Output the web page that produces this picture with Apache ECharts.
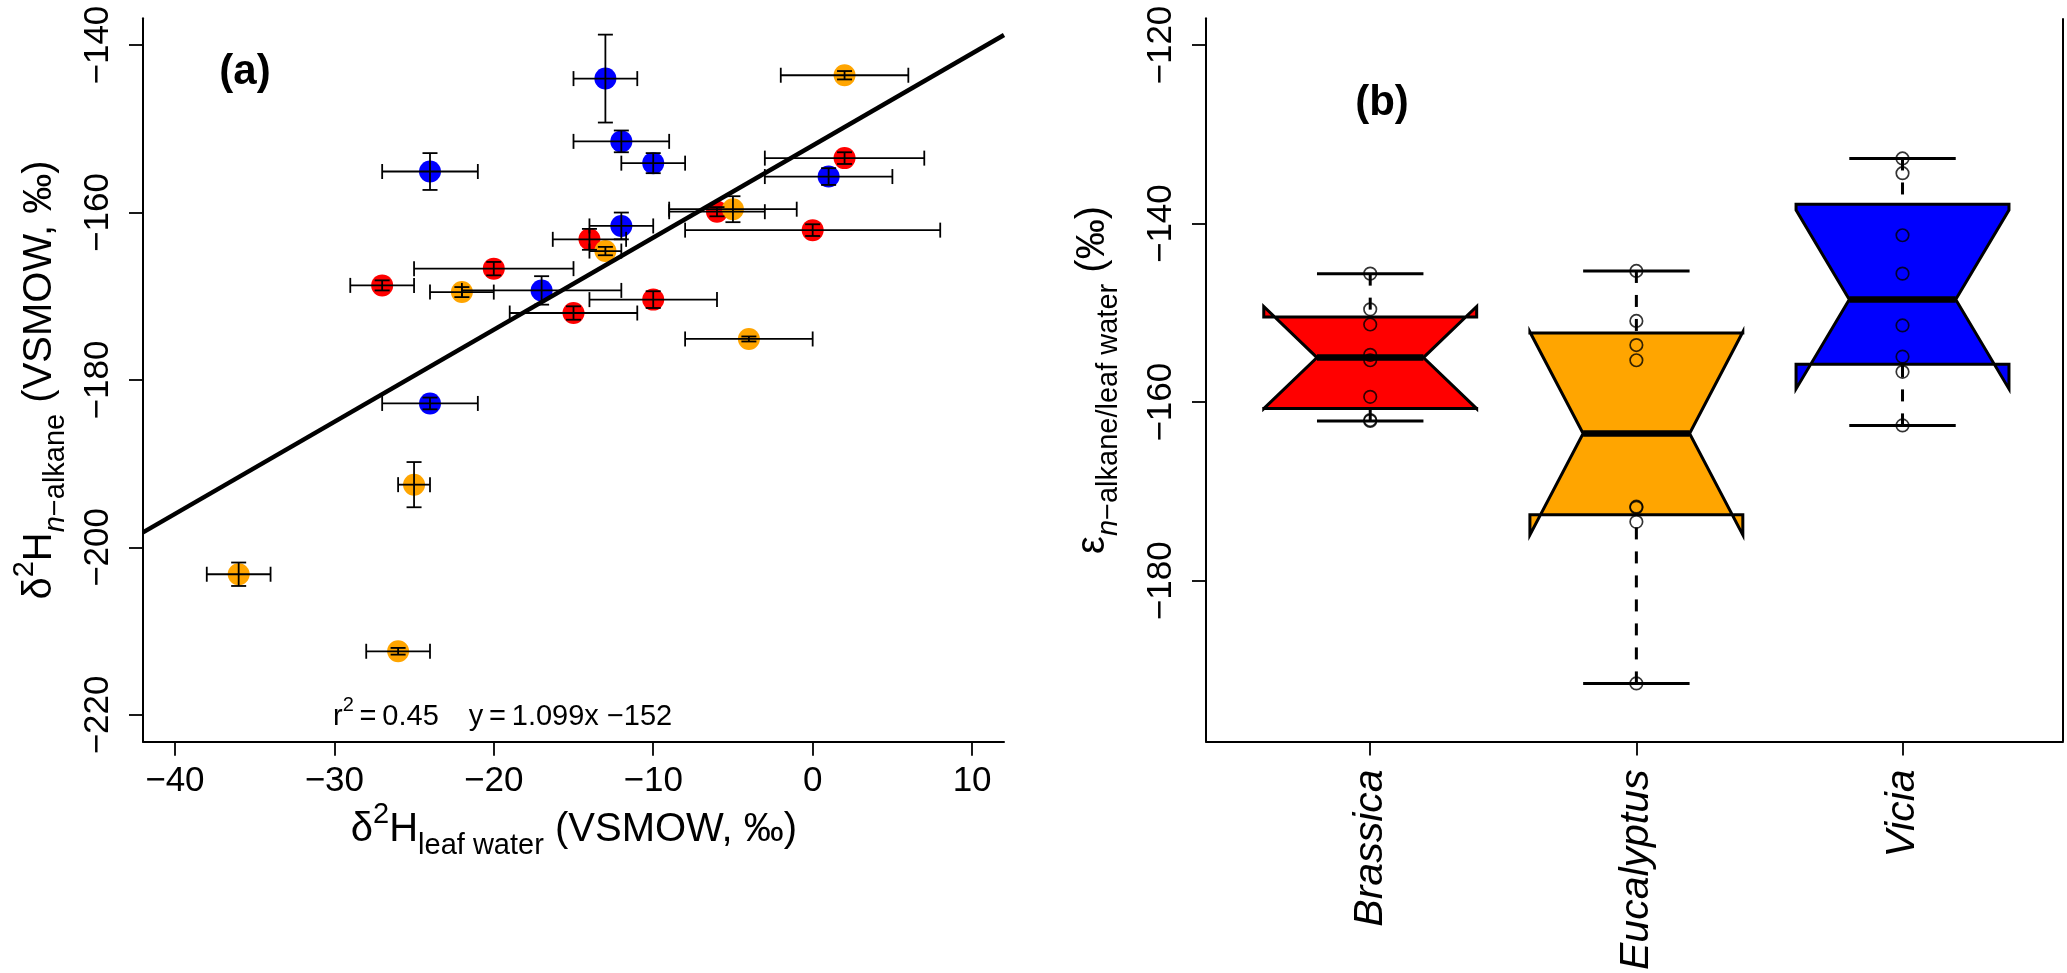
<!DOCTYPE html>
<html>
<head>
<meta charset="utf-8">
<script src="https://cdn.jsdelivr.net/npm/echarts@6/dist/echarts.min.js"></script>
<style>
html,body{margin:0;padding:0;background:#ffffff;}
#chart{width:2067px;height:973px;}
</style>
</head>
<body>
<div id="chart"></div>
<script>
// ---------------- DATA ----------------
const speciesNames = ['Brassica', 'Eucalyptus', 'Vicia'];
const speciesColors = ['#FF0000', '#FFA500', '#0000FF'];

// Panel (a): leaf water d2H (x), n-alkane d2H (y), with SDs
const brassicaLeafWater   = [-27, -20, -15, -14, -10, -6, 0, 2];
const brassicaLeafWaterSD = [2, 5, 4, 2.3, 4, 3, 8, 5];
const brassicaAlkane      = [-168.7, -166.7, -172.0, -163.2, -170.4, -159.9, -162.1, -153.5];
const brassicaAlkaneSD    = [0.6, 0.8, 0.8, 1.25, 1.0, 0.55, 0.7, 0.7];

const eucalyptusLeafWater   = [-36, -26, -25, -22, -13, -5, -4, 2];
const eucalyptusLeafWaterSD = [2, 2, 1, 2, 1, 4, 4, 4];
const eucalyptusAlkane      = [-203.2, -212.4, -192.5, -169.5, -164.6, -159.6, -175.1, -143.6];
const eucalyptusAlkaneSD    = [1.4, 0.4, 2.7, 0.6, 0.5, 1.55, 0.3, 0.5];

const viciaLeafWater   = [-24, -24, -17, -13, -12, -12, -10, 1];
const viciaLeafWaterSD = [3, 3, 5, 2, 3, 2, 2, 4];
const viciaAlkane      = [-155.1, -182.8, -169.3, -144.0, -151.5, -161.6, -154.1, -155.7];
const viciaAlkaneSD    = [2.2, 0.7, 1.7, 5.25, 1.3, 1.6, 1.2, 1.0];

// Regression line end points (y = 1.099x - 152) read at the plot edges
const fitLineX = [-42, 12];
const fitLineY = [-198.2, -138.8];

// Panel (b): epsilon n-alkane / leaf water
const brassicaEpsilon   = [-162.1, -162.0, -159.4, -155.3, -154.7, -151.3, -149.6, -145.6];
const eucalyptusEpsilon = [-191.5, -173.4, -171.8, -171.7, -155.3, -153.6, -150.9, -145.3];
const viciaEpsilon      = [-162.6, -156.6, -154.9, -151.4, -145.6, -141.3, -134.35, -132.7];

// Tick labels
const xTicksA = [-40, -30, -20, -10, 0, 10];
const yTicksA = [-220, -200, -180, -160, -140];
const xTicksB = [1, 2, 3];
const yTicksB = [-180, -160, -140, -120];

// ---------------- LAYOUT ----------------
const FONT = "'Liberation Sans', Arial, Helvetica, sans-serif";
const aXRange = [-42, 12];
const aYRange = [-223.2, -136.8];
const bXRange = [0.383, 3.603];
const bYRange = [-198, -117];

const groupsA = [
  {x: brassicaLeafWater, xe: brassicaLeafWaterSD, y: brassicaAlkane, ye: brassicaAlkaneSD},
  {x: eucalyptusLeafWater, xe: eucalyptusLeafWaterSD, y: eucalyptusAlkane, ye: eucalyptusAlkaneSD},
  {x: viciaLeafWater, xe: viciaLeafWaterSD, y: viciaAlkane, ye: viciaAlkaneSD}
];
const groupsB = [brassicaEpsilon, eucalyptusEpsilon, viciaEpsilon];

// R-style boxplot statistics (Tukey hinges, notches)
function fivenum(v) {
  const x = v.slice().sort((a, b) => a - b);
  const n = x.length;
  const n4 = Math.floor((n + 3) / 2) / 2;
  const d = [1, n4, (n + 1) / 2, n + 1 - n4, n];
  return d.map(di => 0.5 * (x[Math.floor(di) - 1] + x[Math.ceil(di) - 1]));
}
const boxStats = groupsB.map(v => {
  const f = fivenum(v);
  const iqr = f[3] - f[1];
  const loLim = f[1] - 1.5 * iqr, hiLim = f[3] + 1.5 * iqr;
  const inside = v.filter(a => a >= loLim && a <= hiLim);
  const conf = 1.58 * iqr / Math.sqrt(v.length);
  return {
    wlo: Math.min.apply(null, inside), q1: f[1], med: f[2], q3: f[3],
    whi: Math.max.apply(null, inside), nlo: f[2] - conf, nhi: f[2] + conf
  };
});

const series = [];
// scatter points panel (a)
groupsA.forEach((g, k) => {
  series.push({
    type: 'scatter', xAxisIndex: 0, yAxisIndex: 0, z: 2,
    symbol: 'circle', symbolSize: 22,
    itemStyle: {color: speciesColors[k], opacity: 1},
    data: g.x.map((xv, i) => [xv, g.y[i]]),
    silent: true
  });
});
// error bars panel (a)
const errData = [];
groupsA.forEach(g => g.x.forEach((xv, i) => errData.push([xv, g.y[i], g.xe[i], g.ye[i]])));
series.push({
  type: 'custom', xAxisIndex: 0, yAxisIndex: 0, z: 3,
  data: errData,
  encode: {x: 0, y: 1},
  renderItem: function (params, api) {
    const x = api.value(0), y = api.value(1), xe = api.value(2), ye = api.value(3);
    const pL = api.coord([x - xe, y]), pR = api.coord([x + xe, y]);
    const pT = api.coord([x, y + ye]), pB = api.coord([x, y - ye]);
    const c = 7.5;
    const st = {stroke: '#000', lineWidth: 1.8, fill: null};
    const ln = (x1, y1, x2, y2) => ({type: 'line', shape: {x1, y1, x2, y2}, style: st});
    return {type: 'group', children: [
      ln(pL[0], pL[1], pR[0], pR[1]),
      ln(pL[0], pL[1] - c, pL[0], pL[1] + c),
      ln(pR[0], pR[1] - c, pR[0], pR[1] + c),
      ln(pT[0], pT[1], pB[0], pB[1]),
      ln(pT[0] - c, pT[1], pT[0] + c, pT[1]),
      ln(pB[0] - c, pB[1], pB[0] + c, pB[1])
    ]};
  },
  silent: true
});
// regression line
series.push({
  type: 'line', xAxisIndex: 0, yAxisIndex: 0, z: 4,
  data: fitLineX.map((xv, i) => [xv, fitLineY[i]]),
  showSymbol: false, symbol: 'none',
  lineStyle: {color: '#000', width: 4.5},
  clip: true, silent: true
});
// notched boxplots panel (b)
series.push({
  type: 'custom', xAxisIndex: 1, yAxisIndex: 1, z: 2,
  data: boxStats.map((s, i) => [i + 1, s.med]),
  encode: {x: 0, y: 1},
  renderItem: function (params, api) {
    const i = api.value(0);
    const s = boxStats[i - 1];
    const w = 0.4;
    const P = (xx, yy) => api.coord([xx, yy]);
    const x = i;
    const pts = [
      P(x - w, s.q1), P(x + w, s.q1), P(x + w, s.nlo), P(x + w * 0.5, s.med),
      P(x + w, s.nhi), P(x + w, s.q3), P(x - w, s.q3), P(x - w, s.nhi),
      P(x - w * 0.5, s.med), P(x - w, s.nlo)
    ];
    const wLoEnd = P(x, s.wlo), wLoBox = P(x, s.q1);
    const wHiEnd = P(x, s.whi), wHiBox = P(x, s.q3);
    const sL1 = P(x - 0.2, s.wlo), sR1 = P(x + 0.2, s.wlo);
    const sL2 = P(x - 0.2, s.whi), sR2 = P(x + 0.2, s.whi);
    const mL = P(x - w * 0.5, s.med), mR = P(x + w * 0.5, s.med);
    const dash = {stroke: '#000', lineWidth: 3, lineDash: [12, 12], fill: null};
    const solid = {stroke: '#000', lineWidth: 3, fill: null};
    return {type: 'group', children: [
      {type: 'line', shape: {x1: wLoEnd[0], y1: wLoEnd[1], x2: wLoBox[0], y2: wLoBox[1]}, style: dash},
      {type: 'line', shape: {x1: wHiEnd[0], y1: wHiEnd[1], x2: wHiBox[0], y2: wHiBox[1]}, style: dash},
      {type: 'line', shape: {x1: sL1[0], y1: sL1[1], x2: sR1[0], y2: sR1[1]}, style: solid},
      {type: 'line', shape: {x1: sL2[0], y1: sL2[1], x2: sR2[0], y2: sR2[1]}, style: solid},
      {type: 'polygon', shape: {points: pts}, style: {fill: speciesColors[i - 1], stroke: '#000', lineWidth: 3, lineJoin: 'miter'}},
      {type: 'line', shape: {x1: mL[0], y1: mL[1], x2: mR[0], y2: mR[1]}, style: {stroke: '#000', lineWidth: 6.5, lineCap: 'butt'}}
    ]};
  },
  silent: true
});
// open circles panel (b)
groupsB.forEach((v, k) => {
  series.push({
    type: 'scatter', xAxisIndex: 1, yAxisIndex: 1, z: 5,
    symbol: 'circle', symbolSize: 12.5,
    itemStyle: {color: 'rgba(0,0,0,0)', borderColor: '#000', borderWidth: 1.7},
    data: v.map(val => [k + 1, val]),
    silent: true
  });
});

function axisCommon(ticks, extraLabel) {
  return {
    axisLine: {show: true, onZero: false, lineStyle: {color: '#000', width: 2}},
    axisTick: {show: true, inside: false, length: 14, customValues: ticks, lineStyle: {color: '#000', width: 1.8}},
    axisLabel: Object.assign({show: true, customValues: ticks, color: '#000', fontFamily: FONT, fontSize: 35}, extraLabel),
    splitLine: {show: false}
  };
}

const option = {
  animation: false,
  backgroundColor: '#ffffff',
  grid: [
    {left: 143, top: 18.3, width: 861, height: 723.4, show: false},
    {left: 1206, top: 18.3, width: 857, height: 723.4, show: false}
  ],
  xAxis: [
    Object.assign({type: 'value', gridIndex: 0, min: aXRange[0], max: aXRange[1]},
      axisCommon(xTicksA, {margin: 22, formatter: v => (v < 0 ? '\u2212' + Math.abs(v) : String(v))})),
    Object.assign({type: 'value', gridIndex: 1, min: bXRange[0], max: bXRange[1]},
      axisCommon(xTicksB, {margin: 28, rotate: 90, fontStyle: 'italic', fontSize: 41,
        formatter: v => speciesNames[Math.round(v) - 1]}))
  ],
  yAxis: [
    Object.assign({type: 'value', gridIndex: 0, min: aYRange[0], max: aYRange[1]},
      axisCommon(yTicksA, {margin: 27, rotate: 90, align: 'center', verticalAlign: 'bottom',
        formatter: v => (v < 0 ? '\u2212' + Math.abs(v) : String(v))})),
    Object.assign({type: 'value', gridIndex: 1, min: bYRange[0], max: bYRange[1]},
      axisCommon(yTicksB, {margin: 27, rotate: 90, align: 'center', verticalAlign: 'bottom',
        formatter: v => (v < 0 ? '\u2212' + Math.abs(v) : String(v))}))
  ],
  series: series,
  graphic: [
    // right border of panel (b)
    {type: 'line', shape: {x1: 2063, y1: 18.3, x2: 2063, y2: 741.7}, style: {stroke: '#000', lineWidth: 2}, silent: true},
    // panel letters
    {type: 'text', x: 245, y: 72.5, style: {text: '(a)', fontFamily: FONT, fontWeight: 'bold', fontSize: 42, fill: '#000', align: 'center', verticalAlign: 'middle'}},
    {type: 'text', x: 1382, y: 103, style: {text: '(b)', fontFamily: FONT, fontWeight: 'bold', fontSize: 42, fill: '#000', align: 'center', verticalAlign: 'middle'}},
    // r2 / equation
    {type: 'text', x: 333, y: 717, style: {
      text: '{m|r}{sup|2}{m|\u2009=\u20090.45   \u2009y\u2009=\u20091.099x \u2212152}',
      align: 'left', verticalAlign: 'middle',
      rich: {
        m: {fontFamily: FONT, fontSize: 29, fill: '#000', lineHeight: 44},
        sup: {fontFamily: FONT, fontSize: 20, fill: '#000', verticalAlign: 'top', lineHeight: 22}
      }
    }},
    // x title panel (a)
    {type: 'text', x: 574, y: 830, style: {
      text: '{m|\u03b4}{sup|2}{m|H}{sub|leaf water}{m| (VSMOW, \u2030)}',
      align: 'center', verticalAlign: 'middle',
      rich: {
        m: {fontFamily: FONT, fontSize: 40, fill: '#000', lineHeight: 60},
        sup: {fontFamily: FONT, fontSize: 29, fill: '#000', verticalAlign: 'top', lineHeight: 30},
        sub: {fontFamily: FONT, fontSize: 29, fill: '#000', verticalAlign: 'bottom', lineHeight: 30}
      }
    }},
    // y title panel (a)
    {type: 'text', x: 40, y: 380, rotation: Math.PI / 2, style: {
      text: '{m|\u03b4}{sup|2}{m|H}{subi|n}{sub|\u2212alkane}{m| (VSMOW, \u2030)}',
      align: 'center', verticalAlign: 'middle',
      rich: {
        m: {fontFamily: FONT, fontSize: 40, fill: '#000', lineHeight: 60},
        sup: {fontFamily: FONT, fontSize: 29, fill: '#000', verticalAlign: 'top', lineHeight: 30},
        sub: {fontFamily: FONT, fontSize: 29, fill: '#000', verticalAlign: 'bottom', lineHeight: 30},
        subi: {fontFamily: FONT, fontSize: 29, fontStyle: 'italic', fill: '#000', verticalAlign: 'bottom', lineHeight: 30}
      }
    }},
    // y title panel (b)
    {type: 'text', x: 1093, y: 380, rotation: Math.PI / 2, style: {
      text: '{m|\u03b5}{subi|n}{sub|\u2212alkane/leaf water}{m| (\u2030)}',
      align: 'center', verticalAlign: 'middle',
      rich: {
        m: {fontFamily: FONT, fontSize: 40, fill: '#000', lineHeight: 60},
        sub: {fontFamily: FONT, fontSize: 29, fill: '#000', verticalAlign: 'bottom', lineHeight: 30},
        subi: {fontFamily: FONT, fontSize: 29, fontStyle: 'italic', fill: '#000', verticalAlign: 'bottom', lineHeight: 30}
      }
    }}
  ]
};

const chart = echarts.init(document.getElementById('chart'), null, {renderer: 'canvas'});
chart.setOption(option);
</script>
</body>
</html>
